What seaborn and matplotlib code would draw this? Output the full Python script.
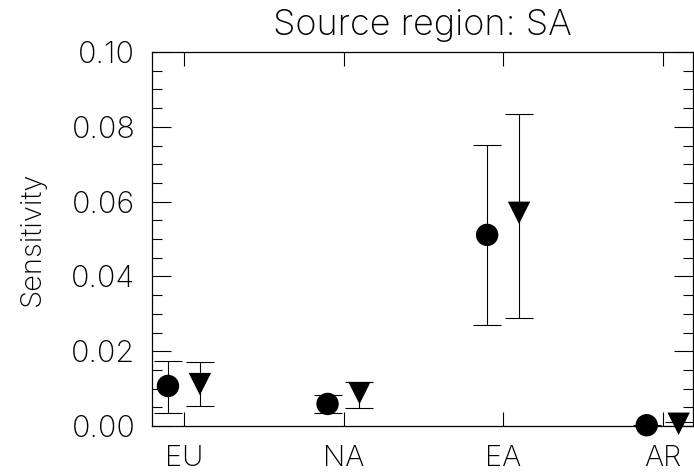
import numpy as np
import pandas as pd
import matplotlib
matplotlib.use("Agg")
import matplotlib.pyplot as plt
import seaborn as sns
from matplotlib.ticker import MultipleLocator
from matplotlib import font_manager as fm

categories = ["EU", "NA", "EA", "AR"]
circle_val = [0.0107, 0.0059, 0.0511, 0.0002]
circle_lo = [0.0035, 0.0035, 0.0270, 0.0000]
circle_hi = [0.0175, 0.0083, 0.0752, 0.0004]
tri_val = [0.0112, 0.0088, 0.0570, 0.0006]
tri_lo = [0.0053, 0.0048, 0.0290, 0.0001]
tri_hi = [0.0172, 0.0118, 0.0835, 0.0010]

sns.set_style("ticks")
plt.rcParams['font.family'] = ['DejaVu Sans']
plt.rcParams['text.color'] = 'black'
plt.rcParams['xtick.color'] = 'black'
plt.rcParams['ytick.color'] = 'black'
plt.rcParams['axes.labelcolor'] = 'black'
plt.rcParams['axes.edgecolor'] = 'black'

light = [f.fname for f in fm.fontManager.ttflist
         if f.name == "Inter" and f.weight == 200 and f.style == "normal"]
light += [f.fname for f in fm.fontManager.ttflist
          if f.name == "Lato" and f.weight == 300 and f.style == "normal"]
def fp(size):
    if light:
        return fm.FontProperties(fname=light[0], size=size)
    return fm.FontProperties(family="DejaVu Sans", size=size)

fig = plt.figure(figsize=(6.94, 4.73), dpi=100)
ax = fig.add_axes([152/694, 1 - 426/473, (693 - 152)/694, (426 - 52)/473])

pos = np.arange(len(categories))
df = pd.DataFrame({
    "x": np.concatenate([pos - 0.1, pos + 0.1]),
    "y": circle_val + tri_val,
    "lo": circle_lo + tri_lo,
    "hi": circle_hi + tri_hi,
    "kind": ["circle"] * 4 + ["tri"] * 4,
})

ax.errorbar(df["x"], df["y"], yerr=[df["y"] - df["lo"], df["hi"] - df["y"]],
            fmt="none", ecolor="black", elinewidth=0.8, capsize=10, capthick=0.8, zorder=1)
sns.scatterplot(data=df, x="x", y="y", style="kind", markers={"circle": "o", "tri": "v"},
                color="black", s=260, edgecolor="black", linewidth=0, legend=False, ax=ax,
                zorder=3, clip_on=False)

ax.set_xlim(-0.2, 3.19)
ax.set_ylim(0, 0.10)
ax.set_xticks(pos)
ax.set_xticklabels(categories)
ax.yaxis.set_major_locator(MultipleLocator(0.02))
ax.yaxis.set_minor_locator(MultipleLocator(0.005))
ax.yaxis.set_major_formatter(matplotlib.ticker.FormatStrFormatter("%.2f"))
ax.tick_params(axis="both", which="both", direction="in", top=True, right=True, width=0.8)
ax.tick_params(axis="y", which="major", length=14, pad=12)
ax.tick_params(axis="y", which="minor", length=7)
ax.tick_params(axis="x", which="major", length=10, pad=14)
for lab in ax.get_yticklabels():
    lab.set_fontproperties(fp(22))
for lab in ax.get_xticklabels():
    lab.set_fontproperties(fp(21))
for sp in ax.spines.values():
    sp.set_linewidth(0.9)
ax.set_xlabel("")
ax.set_ylabel("Sensitivity", fontproperties=fp(21), labelpad=18)
ax.set_title("Source region: SA", fontproperties=fp(26), pad=12)

fig.savefig("out.png", dpi=100)
